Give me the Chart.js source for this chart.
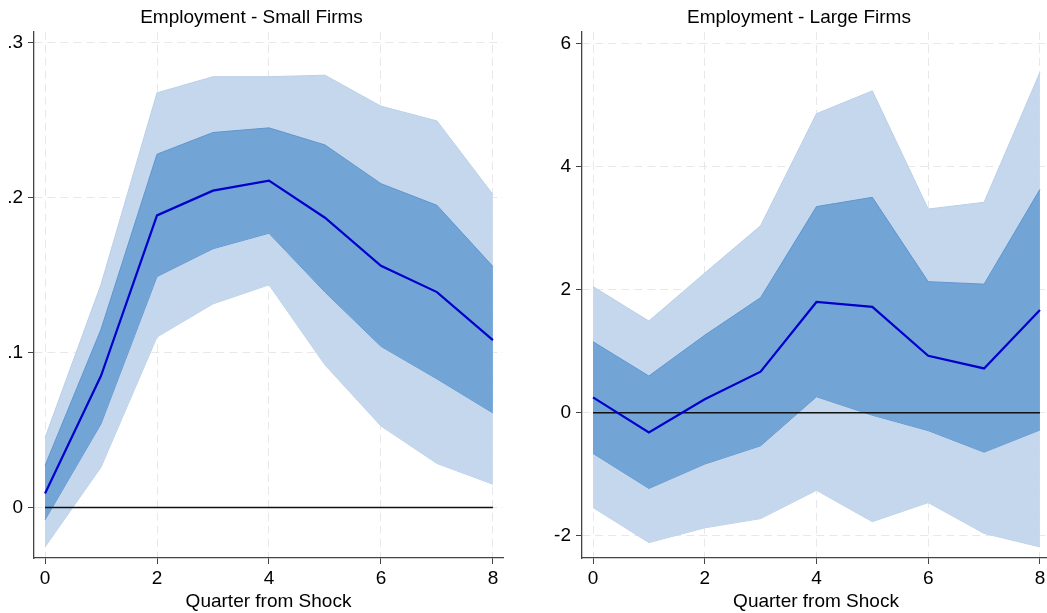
<!DOCTYPE html>
<html>
<head>
<meta charset="utf-8">
<script src="https://cdn.jsdelivr.net/npm/chart.js@4/dist/chart.umd.min.js"></script>
<style>
  html, body { margin: 0; padding: 0; background: #fff; overflow: hidden; }
  .box { position: absolute; top: 0; height: 613px; }
</style>
</head>
<body>
<div class="box" style="left:0;width:537px"><canvas id="small"></canvas></div>
<div class="box" style="left:548px;width:536px"><canvas id="large"></canvas></div>
<script>
const quarters = [0, 1, 2, 3, 4, 5, 6, 7, 8];
const xTicks = [0, 2, 4, 6, 8];

// Small firms
const smallPoint = [0.009, 0.085, 0.1885, 0.2045, 0.211, 0.187, 0.156, 0.139, 0.108];
const smallHi68 = [0.027, 0.115, 0.228, 0.242, 0.245, 0.234, 0.209, 0.195, 0.1555];
const smallLo68 = [-0.008, 0.054, 0.149, 0.167, 0.177, 0.139, 0.104, 0.083, 0.061];
const smallHi95 = [0.045, 0.144, 0.2676, 0.278, 0.278, 0.279, 0.259, 0.2495, 0.202];
const smallLo95 = [-0.0255, 0.026, 0.110, 0.1314, 0.1437, 0.092, 0.0526, 0.0284, 0.015];
const smallYTicks = [0, 0.1, 0.2, 0.3];
const smallYLabels = ["0", ".1", ".2", ".3"];

// Large firms
const largePoint = [0.25, -0.32, 0.22, 0.667, 1.80, 1.72, 0.927, 0.72, 1.67];
const largeHi68 = [1.155, 0.597, 1.26, 1.87, 3.35, 3.50, 2.13, 2.09, 3.63];
const largeLo68 = [-0.66, -1.23, -0.834, -0.537, 0.26, -0.04, -0.29, -0.64, -0.28];
const largeHi95 = [2.05, 1.49, 2.27, 3.04, 4.86, 5.23, 3.31, 3.42, 5.53];
const largeLo95 = [-1.54, -2.11, -1.87, -1.72, -1.26, -1.77, -1.46, -1.96, -2.18];
const largeYTicks = [-2, 0, 2, 4, 6];
const largeYLabels = ["-2", "0", "2", "4", "6"];

const FONT = "'Liberation Sans', Arial, Helvetica, sans-serif";
const lightBand = "rgba(197,215,236,1)";
const darkBand = "rgba(114,164,214,1)";

const pts = arr => arr.map((v, i) => ({ x: quarters[i], y: v }));

function makeChart(id, title, point, hi68, lo68, hi95, lo95, yMin, yMax, yTicks, yLabels) {
  const ctx = document.getElementById(id);
  return new Chart(ctx, {
    type: "line",
    data: {
      datasets: [
        { data: pts(hi95), fill: "+1", backgroundColor: lightBand, borderColor: "rgba(185,207,233,1)", borderWidth: 1, pointRadius: 0, order: 4 },
        { data: pts(lo95), fill: false, borderColor: "rgba(185,207,233,1)", borderWidth: 1, pointRadius: 0, order: 4 },
        { data: pts(hi68), fill: "+1", backgroundColor: darkBand, borderColor: "rgba(95,150,208,1)", borderWidth: 1, pointRadius: 0, order: 3 },
        { data: pts(lo68), fill: false, borderColor: "rgba(95,150,208,1)", borderWidth: 1, pointRadius: 0, order: 3 },
        { data: pts(quarters.map(() => 0)), fill: false, borderColor: "#111", borderWidth: 1.5, pointRadius: 0, order: 2 },
        { data: pts(point), fill: false, borderColor: "#0000cc", borderWidth: 2.2, pointRadius: 0, order: 1 }
      ]
    },
    options: {
      responsive: true,
      maintainAspectRatio: false,
      animation: false,
      layout: { padding: { left: 0, right: 34, top: 0, bottom: 0 } },
      plugins: {
        legend: { display: false },
        tooltip: { enabled: false },
        title: {
          display: true,
          text: title,
          color: "#000",
          font: { family: FONT, size: 19, weight: "normal" },
          padding: { top: 6.5, bottom: 2.5 }
        }
      },
      scales: {
        x: {
          type: "linear",
          min: -0.197,
          max: 8.18,
          afterBuildTicks: scale => { scale.ticks = xTicks.map(v => ({ value: v })); },
          afterFit: scale => { scale.height = 55; },
          ticks: { color: "#000", font: { family: FONT, size: 19 }, padding: 3, maxRotation: 0 },
          grid: { color: "#e8e8e8", lineWidth: 1, tickColor: "#444", tickLength: 6 },
          border: { color: "#444", width: 1.3, dash: [8, 5] },
          title: { display: true, text: "Quarter from Shock", color: "#000", font: { family: FONT, size: 19 }, padding: 0 }
        },
        y: {
          type: "linear",
          min: yMin,
          max: yMax,
          afterBuildTicks: scale => { scale.ticks = yTicks.map(v => ({ value: v })); },
          afterFit: scale => { scale.width = 34; },
          ticks: {
            color: "#000",
            font: { family: FONT, size: 19 },
            padding: 5,
            callback: (v) => yLabels[yTicks.indexOf(v)]
          },
          grid: { color: "#e8e8e8", lineWidth: 1, tickColor: "#444", tickLength: 6 },
          border: { color: "#444", width: 1.3, dash: [8, 5] }
        }
      }
    }
  });
}

makeChart("small", "Employment - Small Firms", smallPoint, smallHi68, smallLo68, smallHi95, smallLo95, -0.0326, 0.307, smallYTicks, smallYLabels);
makeChart("large", "Employment - Large Firms", largePoint, largeHi68, largeLo68, largeHi95, largeLo95, -2.36, 6.19, largeYTicks, largeYLabels);
</script>
</body>
</html>
